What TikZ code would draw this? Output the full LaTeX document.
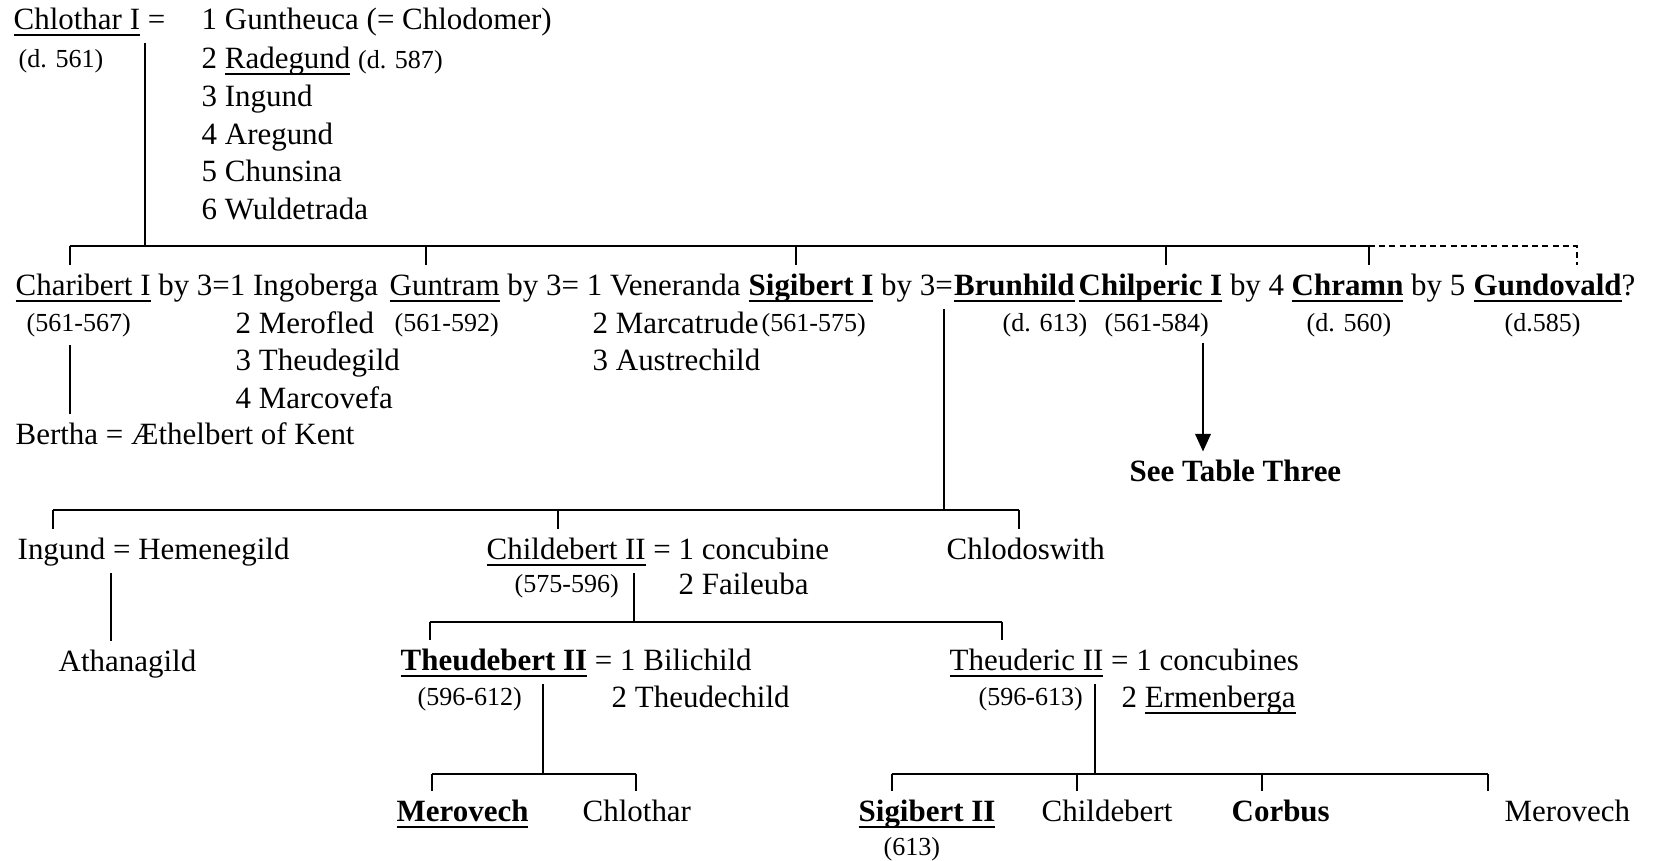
\documentclass[tikz,border=0pt]{standalone}
\usepackage{fontspec}
\setmainfont{Liberation Serif}
\usetikzlibrary{arrows.meta,positioning}
\newsavebox{\nmbox}
\newcommand{\nm}[1]{\sbox{\nmbox}{#1}\rlap{\rule[-1.9pt]{\wd\nmbox}{0.45pt}}\usebox{\nmbox}}
\newcommand{\bnm}[1]{\textbf{\nm{#1}}}
\newcommand{\mainsz}{\fontsize{8.8}{10.5}\selectfont}
\newcommand{\datesz}{\fontsize{7.4}{9}\selectfont}
\tikzset{
  txt/.style={anchor=base west, inner xsep=0pt, inner ysep=2pt,
              text height=6.2pt, text depth=1.8pt, font=\mainsz},
  dat/.style={txt, font=\datesz},
  ln/.style={line width=0.6pt},
  dsh/.style={ln, dash pattern=on 1.7pt off 1.2pt},
  seearr/.style={ln, -{Triangle[length=5pt,width=4.4pt]}},
}

\begin{document}
\begin{tikzpicture}[x=0.01cm, y=-0.01cm]
    \useasboundingbox (0,0) rectangle (1657,860);
    % Chlothar I and wives
    \node[txt] (chlothar) at (13,29) {\nm{Chlothar I} =};
    \node[dat] (chlotd) at (18,67) {(d. 561)};
    \node[txt] (w1) at (201,29) {1 Guntheuca (= Chlodomer)};
    \node[txt] (w2) at (201,68) {2 \nm{Radegund} {\datesz(d. 587)}};
    \foreach \y/\w [count=\i from 3] in {106/Ingund, 144/Aregund, 181/Chunsina, 219/Wuldetrada}
      \node[txt] (w\i) at (201,\y) {\i\ \w};
    \coordinate (b1) at (145,246);
    \draw[ln] (chlothar.south -| b1) -- (b1);
    % sons
    \node[txt] (charibert) at (15,295) {\nm{Charibert I} by 3=1 Ingoberga};
    \node[txt] (guntram) at (389,295) {\nm{Guntram} by 3= 1 Veneranda};
    \node[txt] (sigibert) at (748,295) {\bnm{Sigibert I} by 3=};
    \node[txt] (brunhild) at (sigibert.base east) {\bnm{Brunhild}};
    \node[txt] (chilperic) at (1078,295) {\bnm{Chilperic I} by 4};
    \node[txt] (chramn) at (1291,295) {\bnm{Chramn} by 5};
    \node[txt] (gundovald) at (1473,295) {\bnm{Gundovald}?};
    \coordinate (b1L) at (70,246);
    \coordinate (b1R) at (1369,246);
    \coordinate (b1D) at (1577,246);
    \draw[ln] (b1L) -- (b1R);
    \draw[dsh] (b1R) -- (b1D) -- (b1D |- gundovald.north);
    \foreach \c/\x in {charibert/70, guntram/426, sigibert/796, chilperic/1166, chramn/1369} {
      \coordinate (k) at (\x,246);
      \draw[ln] (k) -- (k |- \c.north);
    }
    \node[dat] (charid) at (26,331) {(561-567)};
    \node[txt] (ingo2) at (235,333) {2 Merofled};
    \node[txt] (ingo3) at (235,370) {3 Theudegild};
    \node[txt] (ingo4) at (235,408) {4 Marcovefa};
    \node[dat] (guntd) at (394,331) {(561-592)};
    \node[txt] (vene2) at (592,333) {2 Marcatrude};
    \node[txt] (vene3) at (592,370) {3 Austrechild};
    \node[dat] (sigd) at (761,331) {(561-575)};
    \node[dat] (brund) at (1002,331) {(d. 613)};
    \node[dat] (chilpd) at (1104,331) {(561-584)};
    \node[dat] (chramnd) at (1306,331) {(d. 560)};
    \node[dat] (gundd) at (1504,331) {(d.585)};
    % Charibert's line and Chilperic's pointer
    \node[txt] (bertha) at (15,444) {Bertha = Æthelbert of Kent};
    \draw[ln] (charid.south -| b1L) -- (b1L |- bertha.north);
    \node[txt, font=\mainsz\bfseries] (table3) at (1129,481) {See Table Three};
    \coordinate (sx) at (1203,343);
    \draw[seearr] (sx) -- (sx |- table3.north);
    % children of Sigibert I
    \coordinate (b2) at (944,510);
    \draw[ln] (b2 |- brunhild.south) -- (b2);
    \node[txt] (ingund) at (17,559) {Ingund = Hemenegild};
    \node[txt] (childebert) at (486,559) {\nm{Childebert II} = 1 concubine};
    \node[txt] (chlodo) at (946,559) {Chlodoswith};
    \node[dat] (childd) at (514,592) {(575-596)};
    \node[txt] (faileuba) at (678,594) {2 Faileuba};
    \draw[ln] (53,510) -- (1019,510);
    \foreach \c/\x in {ingund/53, childebert/558, chlodo/1019} {
      \coordinate (k) at (\x,510);
      \draw[ln] (k) -- (k |- \c.north);
    }
    \node[txt] (athanagild) at (58,671) {Athanagild};
    \coordinate (ath) at (111,600);
    \draw[ln] (ingund.south -| ath) -- (ath |- athanagild.north);
    % children of Childebert II
    \node[txt] (theudebert) at (400,670) {\bnm{Theudebert II} = 1 Bilichild};
    \node[txt] (theuderic) at (949,670) {\nm{Theuderic II} = 1 concubines};
    \node[dat] (theubd) at (417,705) {(596-612)};
    \node[txt] (theudechild) at (611,707) {2 Theudechild};
    \node[dat] (theurd) at (978,705) {(596-613)};
    \node[txt] (ermen) at (1121,707) {2 \nm{Ermenberga}};
    \coordinate (b3) at (634,622);
    \draw[ln] (childebert.south -| b3) -- (b3);
    \draw[ln] (430,622) -- (1002,622);
    \foreach \c/\x in {theudebert/430, theuderic/1002} {
      \coordinate (k) at (\x,622);
      \draw[ln] (k) -- (k |- \c.north);
    }
    % grandchildren
    \node[txt] (merovech) at (396,821) {\bnm{Merovech}};
    \node[txt] (chlothar2) at (582,821) {Chlothar};
    \node[txt] (sigibert2) at (858,821) {\bnm{Sigibert II}};
    \node[txt] (childebert2) at (1041,821) {Childebert};
    \node[txt] (corbus) at (1231,821) {\textbf{Corbus}};
    \node[txt] (merovech2) at (1504,821) {Merovech};
    \node[dat] (sig2d) at (883,855) {(613)};
    \coordinate (b4) at (543,774);
    \coordinate (b5) at (1095,774);
    \draw[ln] (theudebert.south -| b4) -- (b4);
    \draw[ln] (theuderic.south -| b5) -- (b5);
    \draw[ln] (432,774) -- (636,774);
    \draw[ln] (892,774) -- (1488,774);
    \foreach \c/\x in {merovech/432, chlothar2/636, sigibert2/892, childebert2/1077, corbus/1262, merovech2/1488} {
      \coordinate (k) at (\x,774);
      \draw[ln] (k) -- (k |- \c.north);
    }
\end{tikzpicture}
\end{document}
